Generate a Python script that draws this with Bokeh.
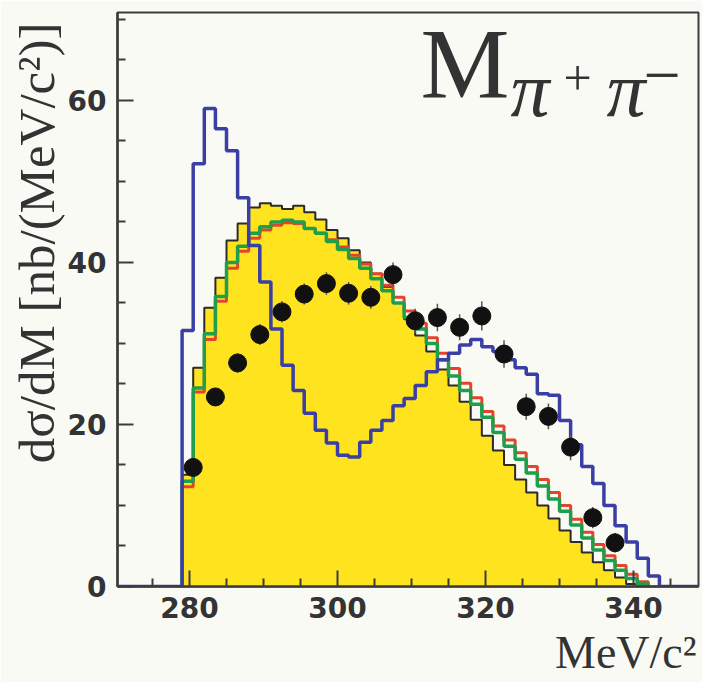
import numpy as np
from bokeh.plotting import figure
from bokeh.models import Label, FixedTicker, Range1d, Title
from bokeh.embed import file_html
from bokeh.resources import INLINE

# ---------------- data ----------------
bin_start = 279.0
bin_width = 1.5

# blue model histogram
blue_model = [31.6, 52.2, 59.0, 56.5, 53.8, 48.0, 42.1, 37.6, 31.8, 27.3,
              24.2, 21.4, 19.3, 17.7, 16.2, 16.0, 17.8, 19.3, 20.5, 22.3,
              23.2, 24.8, 26.5, 28.0, 28.8, 29.8, 30.5, 29.6, 29.0, 28.0,
              27.0, 26.2, 23.8, 23.6, 20.5, 17.5, 14.8, 12.7, 10.0, 7.5,
              5.5, 3.5, 1.3]
# yellow filled (black outline) model histogram
yellow_model = [13.8, 27.0, 34.4, 38.1, 42.7, 44.8, 46.8, 47.3, 47.0, 46.6,
                47.0, 46.2, 45.3, 44.0, 43.0, 41.5, 40.0, 38.6, 37.0, 35.0,
                33.0, 31.0, 29.0, 26.8, 24.8, 22.8, 20.6, 18.6, 16.8, 15.0,
                13.2, 11.6, 10.0, 8.4, 6.9, 5.5, 4.2, 3.0, 2.0, 1.1, 0.3]
# green model histogram
green_model = [13.0, 24.5, 31.2, 35.8, 40.0, 42.0, 43.6, 44.4, 45.0, 45.2,
               45.0, 44.2, 43.6, 42.6, 41.6, 40.5, 39.3, 38.0, 36.5, 35.0,
               33.2, 31.8, 30.0, 28.0, 26.0, 24.2, 22.5, 20.9, 19.0, 17.3,
               15.7, 14.0, 12.4, 10.8, 9.3, 7.6, 6.0, 4.5, 3.2, 2.0, 1.0, 0.3]
# red model histogram
red_model = [12.3, 24.0, 30.5, 35.2, 39.3, 41.4, 43.0, 44.0, 44.6, 44.9,
             44.8, 44.2, 43.6, 42.8, 41.9, 40.9, 39.8, 38.6, 37.2, 35.7,
             34.0, 32.5, 30.7, 28.8, 26.9, 25.1, 23.3, 21.6, 19.8, 18.1,
             16.5, 14.8, 13.2, 11.6, 10.0, 8.3, 6.7, 5.2, 3.8, 2.6, 1.5, 0.6]

# measured points
data_mass = [280.5, 283.5, 286.5, 289.5, 292.5, 295.5, 298.5, 301.5, 304.5, 307.5,
             310.5, 313.5, 316.5, 319.5, 322.5, 325.5, 328.5, 331.5, 334.5, 337.5]
data_xsec = [14.7, 23.4, 27.6, 31.1, 33.9, 36.1, 37.4, 36.2, 35.7, 38.5,
             32.8, 33.2, 32.0, 33.4, 28.7, 22.2, 21.0, 17.2, 8.5, 5.4]
data_err = [1.0, 1.1, 1.2, 1.3, 1.3, 1.3, 1.4, 1.4, 1.4, 1.5,
            1.5, 1.7, 1.6, 1.8, 1.7, 1.6, 1.6, 1.6, 1.3, 1.2]

x_major = [280, 300, 320, 340]
x_minor = [270, 275, 285, 290, 295, 305, 310, 315, 325, 330, 335, 345]
y_major = [0, 20, 40, 60]
y_minor = [5, 10, 15, 25, 30, 35, 45, 50, 55, 65, 70]

X0, X1 = 270.27, 348.78
Y0, Y1 = 0.0, 70.86

# ---------------- helpers ----------------
def step_path(values, x_lo=None, x_hi=None):
    edges = bin_start + bin_width * np.arange(len(values) + 1)
    xs, ys = [], []
    if x_lo is not None:
        xs.append(x_lo); ys.append(0.0)
    xs.append(edges[0]); ys.append(0.0)
    for i, v in enumerate(values):
        xs += [edges[i], edges[i + 1]]
        ys += [v, v]
    xs.append(edges[-1]); ys.append(0.0)
    if x_hi is not None:
        xs.append(x_hi); ys.append(0.0)
    return xs, ys

LEFT, RIGHT, TOP, BOTTOM = 117, 4, 12, 96
W, H = 702, 682
px_per_x = (W - LEFT - RIGHT) / (X1 - X0)
px_per_y = (H - TOP - BOTTOM) / (Y1 - Y0)

def xd(px):
    return X0 + (px - LEFT) / px_per_x

def yd(py):
    return Y0 + ((H - BOTTOM) - py) / px_per_y

BG = "#FAFAF5"
AX = "#3c3c3c"
SERIF = "Liberation Serif"
TXT = "#333333"

p = figure(width=W, height=H, x_range=Range1d(X0, X1), y_range=Range1d(Y0, Y1),
           output_backend="svg", toolbar_location=None,
           min_border_left=LEFT, min_border_right=RIGHT,
           min_border_top=TOP, min_border_bottom=BOTTOM)
p.background_fill_color = BG
p.border_fill_color = BG
p.outline_line_color = AX
p.outline_line_width = 2
p.xgrid.visible = False
p.ygrid.visible = False

for ax, maj, mnr in ((p.xaxis, x_major, x_minor), (p.yaxis, y_major, y_minor)):
    ax.ticker = FixedTicker(ticks=maj, minor_ticks=mnr)
    ax.axis_line_color = AX
    ax.axis_line_width = 2.5
    ax.major_tick_line_color = AX
    ax.major_tick_line_width = 2
    ax.minor_tick_line_color = AX
    ax.minor_tick_line_width = 2
    ax.major_tick_in = 16
    ax.major_tick_out = 0
    ax.minor_tick_in = 8
    ax.minor_tick_out = 0
    ax.major_label_text_font = "DejaVu Sans"
    ax.major_label_text_font_style = "bold"
    ax.major_label_text_font_size = "28px"
    ax.major_label_text_color = "#333333"
p.xaxis.major_label_standoff = 10
p.yaxis.major_label_standoff = 11

# axis titles
ytitle = Title(text="d\u03c3/dM [nb/(MeV/c\u00b2)]", align="right", offset=10,
               text_font=SERIF, text_font_size="51px", text_font_style="normal",
               text_color=TXT, standoff=0)
p.add_layout(ytitle, "left")
xtitle = Title(text="MeV/c\u00b2", align="right", offset=2,
               text_font=SERIF, text_font_size="46px", text_font_style="normal",
               text_color=TXT, standoff=9)
p.add_layout(xtitle, "below")

# yellow filled histogram
edges_y = bin_start + bin_width * np.arange(len(yellow_model) + 1)
p.quad(left=edges_y[:-1], right=edges_y[1:], bottom=0, top=yellow_model,
       fill_color="#FFE31E", line_color="#FFE31E", line_width=1)
bx, by = step_path(yellow_model)
p.line(bx, by, line_color="#2b2b2b", line_width=2)

rx, ry = step_path(red_model)
p.line(rx, ry, line_color="#E5442C", line_width=3)
gx, gy = step_path(green_model)
p.line(gx, gy, line_color="#1F9E4C", line_width=3.5)
ux, uy = step_path(blue_model, X0, X1)
p.line(ux, uy, line_color="#3A3FA6", line_width=3.5)

# data points
lo = [v - e for v, e in zip(data_xsec, data_err)]
hi = [v + e for v, e in zip(data_xsec, data_err)]
p.segment(x0=data_mass, y0=lo, x1=data_mass, y1=hi, line_color="#555555", line_width=1.5)
p.scatter(data_mass, data_xsec, size=18, fill_color="#111111", line_color="#111111")

# ---------------- title M_{pi+ pi-} ----------------
def lab(px, base_py, text, size_px, style="normal"):
    # Bokeh places 'alphabetic' text about 0.37 em lower than the anchor
    p.add_layout(Label(x=xd(px), y=yd(base_py - 0.37 * size_px), text=text,
                       text_font=SERIF, text_font_size=f"{size_px}px",
                       text_font_style=style, text_color=TXT,
                       text_align="left", text_baseline="alphabetic"))

lab(420, 100, "M", 100)
lab(510, 118, "\u03c0", 78, "italic")
lab(563, 96, "+", 50)
lab(606, 118, "\u03c0", 78, "italic")
lab(643, 99, "\u2212", 66)

open("out.html", "w").write(file_html(p, INLINE))
